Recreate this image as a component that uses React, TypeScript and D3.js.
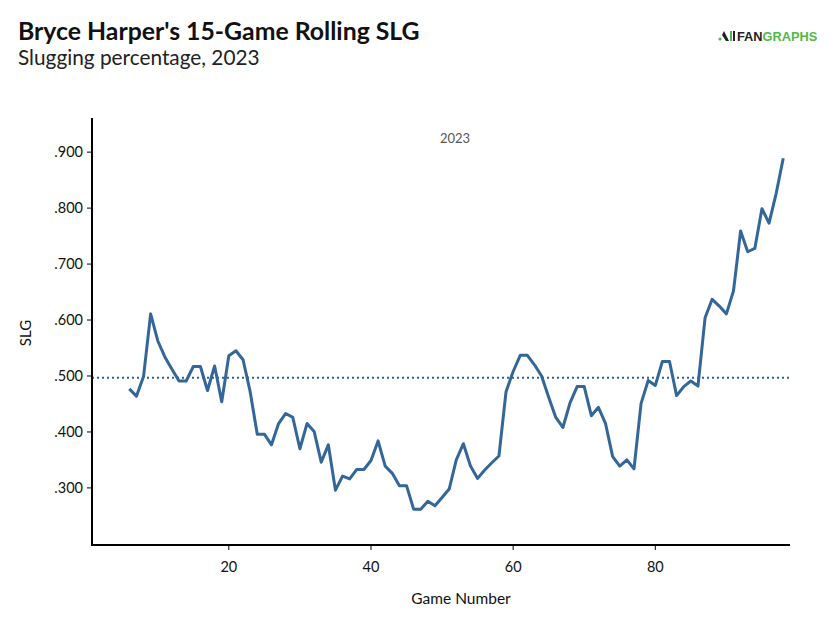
import React from "react"
import * as d3 from "d3"

// 15-game rolling SLG, games 6..98
const firstGame = 6
const slg: number[] = [
  0.477, 0.464, 0.499, 0.611, 0.563, 0.534, 0.512, 0.491, 0.491, 0.517,
  0.517, 0.474, 0.518, 0.454, 0.536, 0.545, 0.529, 0.472, 0.396, 0.396,
  0.377, 0.415, 0.433, 0.426, 0.37, 0.415, 0.401, 0.346, 0.377, 0.296,
  0.321, 0.316, 0.333, 0.333, 0.349, 0.384, 0.339, 0.326, 0.304, 0.304,
  0.262, 0.262, 0.276, 0.268, 0.283, 0.298, 0.35, 0.379, 0.339, 0.317,
  0.332, 0.345, 0.357, 0.472, 0.508, 0.537, 0.537, 0.52, 0.5, 0.462,
  0.426, 0.408, 0.452, 0.481, 0.481, 0.429, 0.444, 0.415, 0.356, 0.339,
  0.35, 0.334, 0.451, 0.492, 0.483, 0.526, 0.526, 0.465, 0.481, 0.491,
  0.482, 0.604, 0.637, 0.625, 0.611, 0.652, 0.759, 0.722, 0.728, 0.799,
  0.773, 0.826, 0.889,
]
const seasonAvg = 0.497
const xTicks = [20, 40, 60, 80]
const yTicks = [0.3, 0.4, 0.5, 0.6, 0.7, 0.8, 0.9]

const data = slg.map((v, i) => ({ game: firstGame + i, slg: v }))

const W = 840
const H = 631
const margin = { top: 118, right: 50, bottom: 86, left: 92 }

export default function App() {
  const x = d3.scaleLinear().domain([0.75, 98.95]).range([margin.left, W - margin.right])
  const y = d3.scaleLinear().domain([0.198, 0.961]).range([H - margin.bottom, margin.top])

  const line = d3
    .line<{ game: number; slg: number }>()
    .x(d => x(d.game))
    .y(d => y(d.slg))

  const fmt = (v: number) => d3.format(".3f")(v).replace(/^0/, "")
  const font = "Lato, 'Open Sans', sans-serif"

  return (
    <svg
      width={W}
      height={H}
      style={{ position: "absolute", left: 0, top: 0, background: "#fff" }}
      fontFamily={font}
    >
      <text x={18} y={40} fontSize={24.8} fontWeight={700} fill="#111">
        Bryce Harper's 15-Game Rolling SLG
      </text>
      <text x={18} y={65} fontSize={20.8} fill="#222">
        Slugging percentage, 2023
      </text>

      {/* logo */}
      <g transform="translate(718,36)">
        <circle cx={2} cy={3} r={1.6} fill="#52b848" />
        <path d="M6,-5 L11,5 L8,5 L4,-1 Z" fill="#222" />
        <rect x={12} y={-5} width={2} height={10} fill="#52b848" />
        <rect x={15} y={-5} width={2} height={10} fill="#222" />
        <text x={19} y={5} fontSize={12.8} fontWeight={700} fontFamily="'Liberation Sans Narrow', 'Arial Narrow', sans-serif" fill="#222">
          FAN
          <tspan fill="#52b848">GRAPHS</tspan>
        </text>
      </g>

      <text x={455} y={143} fontSize={13} fill="#555" textAnchor="middle">
        2023
      </text>

      {/* reference line */}
      <line
        x1={x(0.75)}
        x2={x(98.95)}
        y1={y(seasonAvg)}
        y2={y(seasonAvg)}
        stroke="#2f6094"
        strokeWidth={2}
        strokeDasharray="2,3"
      />

      <path d={line(data) || ""} fill="none" stroke="#336699" strokeWidth={3} strokeLinejoin="round" />

      {/* axes */}
      <line x1={margin.left} x2={margin.left} y1={margin.top} y2={H - margin.bottom + 1} stroke="#000" strokeWidth={2} />
      <line x1={margin.left - 1} x2={W - margin.right} y1={H - margin.bottom} y2={H - margin.bottom} stroke="#000" strokeWidth={2} />

      {yTicks.map(t => (
        <g key={t} transform={`translate(${margin.left},${y(t)})`}>
          <line x1={-5} x2={0} stroke="#000" strokeWidth={1} />
          <text x={-9} dy="0.35em" textAnchor="end" fontSize={14.5} fill="#111">
            {fmt(t)}
          </text>
        </g>
      ))}
      {xTicks.map(t => (
        <g key={t} transform={`translate(${x(t)},${H - margin.bottom})`}>
          <line y1={0} y2={5} stroke="#000" strokeWidth={1} />
          <text y={27} textAnchor="middle" fontSize={14.5} fill="#111">
            {t}
          </text>
        </g>
      ))}

      <text x={461} y={604} textAnchor="middle" fontSize={15.5} fill="#111">
        Game Number
      </text>
      <text transform={`translate(31,${333}) rotate(-90)`} textAnchor="middle" fontSize={15} fill="#111">
        SLG
      </text>
    </svg>
  )
}
